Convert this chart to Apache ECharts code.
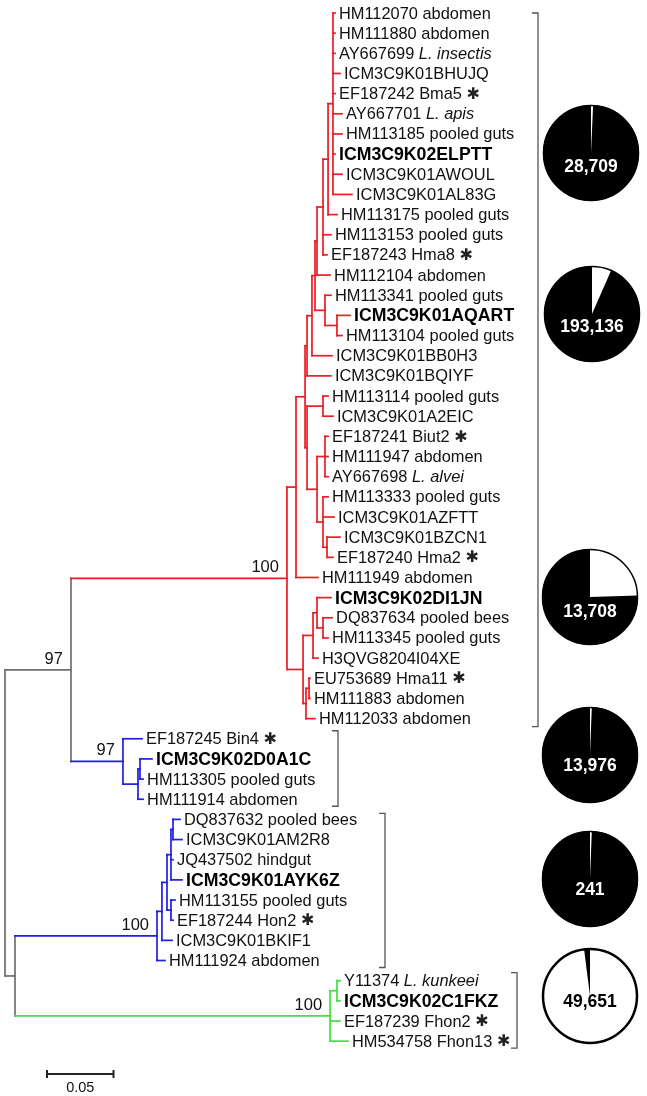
<!DOCTYPE html>
<html><head><meta charset="utf-8">
<script src="https://cdn.jsdelivr.net/npm/echarts@6/dist/echarts.min.js"></script>
<style>html,body{margin:0;padding:0;background:#fff}#c{width:647px;height:1096px}</style>
</head><body><div id="c"></div>
<script>
// ---------- data ----------
const leafNames = [
 'HM112070 abdomen','HM111880 abdomen','AY667699 L. insectis','ICM3C9K01BHUJQ','EF187242 Bma5',
 'AY667701 L. apis','HM113185 pooled guts','ICM3C9K02ELPTT','ICM3C9K01AWOUL','ICM3C9K01AL83G',
 'HM113175 pooled guts','HM113153 pooled guts','EF187243 Hma8','HM112104 abdomen','HM113341 pooled guts',
 'ICM3C9K01AQART','HM113104 pooled guts','ICM3C9K01BB0H3','ICM3C9K01BQIYF','HM113114 pooled guts',
 'ICM3C9K01A2EIC','EF187241 Biut2','HM111947 abdomen','AY667698 L. alvei','HM113333 pooled guts',
 'ICM3C9K01AZFTT','ICM3C9K01BZCN1','EF187240 Hma2','HM111949 abdomen','ICM3C9K02DI1JN',
 'DQ837634 pooled bees','HM113345 pooled guts','H3QVG8204I04XE','EU753689 Hma11','HM111883 abdomen',
 'HM112033 abdomen','EF187245 Bin4','ICM3C9K02D0A1C','HM113305 pooled guts','HM111914 abdomen',
 'DQ837632 pooled bees','ICM3C9K01AM2R8','JQ437502 hindgut','ICM3C9K01AYK6Z','HM113155 pooled guts',
 'EF187244 Hon2','ICM3C9K01BKIF1','HM111924 abdomen','Y11374 L. kunkeei','ICM3C9K02C1FKZ',
 'EF187239 Fhon2','HM534758 Fhon13'
];
// distance of each tip from the root (substitutions per site)
const leafTip = [
 .2481,.2481,.2481,.2519,.2481,.2534,.2534,.2481,.2534,.2609,
 .2496,.2451,.2421,.2444,.2451,.2594,.2534,.2459,.2451,.2429,
 .2466,.2429,.2429,.2429,.2429,.2474,.2519,.2466,.2353,.2451,
 .2459,.2429,.2353,.2293,.2293,.2331,.1030,.1105,.1038,.1038,
 .1316,.1331,.1263,.1331,.1278,.1263,.1256,.1203,.2519,.2519,
 .2519,.2579
];
const boldLeaves = [7,15,29,37,43,49];
const italicLeaves = [2,5,23,48];
const starLeaves = [4,12,21,27,33,36,45,50,51];

const nodeNames = ['N1','N2','N3','N4','Nq2','Nq','N5','N6','N7','G1','G2','G3b','G3','G23','G123','U','A',
 'L1b','L1a','L1','L2a','L2','L','R','B1a','B1b','B1','N97','B2aa','B2a','B2b','B2c','B2d','B2','Ga','G','NB','Root'];
const nodeChildren = [
 [0,1,2,3,4,5,6,7,8,9],['N1',10],['N2',11,12],['N3',13],[15,16],[14,'Nq2'],['N4','Nq'],['N5',17],['N6',18],
 [19,20],[21,22,23],[26,27],[24,25,'G3b'],['G2','G3'],['G1','G23'],['N7','G123'],['U',28],
 [30,31],[29,'L1b'],['L1a',32],[33,34],['L2a',35],['L1','L2'],['A','L'],
 [37,38],['B1a',39],[36,'B1b'],['R','B1'],
 [40,41],['B2aa',42,43],[44,45],['B2a','B2b'],['B2c',46],['B2d',47],
 [48,49],['Ga',50,51],['B2','G'],['N97','NB']
];
const nodeDepth = [
 .2466,.2429,.2391,.2346,.2496,.2406,.2331,.2308,.2271,.2391,.2406,.2421,.2391,.2346,.2271,.2256,.2188,
 .2391,.2346,.2316,.2286,.2263,.2241,.2120,.1015,.1000,.0887,.0496,
 .1263,.1248,.1248,.1218,.1180,.1143,.2496,.2444,.0075,0
];
const nodeClade = ['r','r','r','r','r','r','r','r','r','r','r','r','r','r','r','r','r',
 'r','r','r','r','r','r','r','b','b','b','k','b','b','b','b','b','b','g','g','k','k'];
const supportNodes = ['R','N97','B1','B2','G'];
const supportValues = ['100','97','97','100','100'];
const pieCounts = ['28,709','193,136','13,708','13,976','241','49,651'];
const pieMinorShare = [0.007,0.066,0.245,0.006,0.006,0.02];
const scaleBarLength = 0.05;

// ---------- layout / style ----------
const cladeColor = {r:'#ec1c24', b:'#1e1ee6', g:'#45de45', k:'#6e6e6e'};
const FONT = '"Liberation Sans", Arial, Helvetica, sans-serif';
const pieCenters = [[591,153],[592,314],[590,597],[590,755],[590,879],[590,996]];
const pieLabelDy = [14,13,15,11,11,6];
const brackets = [[0,35,538,0,8],[36,39,338,8,7],[40,47,385,6,7],[48,51,517,8,7]]; // from,to,xpx,padTop,padBottom

const nodeIndex = {};
nodeNames.forEach((n,i)=>nodeIndex[n]=i);
const memo = {};
function pos(ref){
  if (typeof ref === 'number') return {x: leafTip[ref], y: ref};
  if (memo[ref]) return memo[ref];
  const i = nodeIndex[ref], ch = nodeChildren[i];
  const a = pos(ch[0]), b = pos(ch[ch.length-1]);
  return memo[ref] = {x: nodeDepth[i], y: (a.y+b.y)/2};
}
const segs = [];
nodeNames.forEach((n,i)=>{
  const p = pos(n), ch = nodeChildren[i];
  const ys = ch.map(c=>pos(c).y);
  segs.push([p.x, Math.min(...ys), p.x, Math.max(...ys), nodeClade[i]]);
  ch.forEach(c=>{
    const q = pos(c);
    const col = typeof c === 'number' ? nodeClade[i] : nodeClade[nodeIndex[c]];
    segs.push([p.x, q.y, q.x, q.y, col]);
  });
});
const leafData = leafNames.map((n,i)=>[leafTip[i], i]);
const supportData = supportNodes.map((n,i)=>[pos(n).x, pos(n).y, i]);

function leafRich(i){
  const name = leafNames[i];
  if (boldLeaves.includes(i)) return '{b|'+name+'}';
  if (italicLeaves.includes(i)) {
    const k = name.indexOf(' ');
    return '{n|'+name.slice(0,k+1)+'}{i|'+name.slice(k+1)+'}';
  }
  if (starLeaves.includes(i)) return '{n|'+name+' }{s|✱}';
  return '{n|'+name+'}';
}

const chart = echarts.init(document.getElementById('c'), null, {renderer:'canvas'});
const series = [
  {
    type:'custom', clip:false, silent:true, animation:false,
    data: segs.map(s=>[s[0],s[1],s[2],s[3]]),
    renderItem(params, api){
      const p1 = api.coord([api.value(0), api.value(1)]);
      const p2 = api.coord([api.value(2), api.value(3)]);
      return {type:'line', shape:{x1:p1[0],y1:p1[1],x2:p2[0],y2:p2[1]},
        style:{stroke: cladeColor[segs[params.dataIndex][4]], lineWidth:1.7, lineCap:'square'}};
    }
  },
  {
    type:'custom', clip:false, silent:true, animation:false,
    data: leafData,
    renderItem(params, api){
      const p = api.coord([api.value(0), api.value(1)]);
      return {type:'text', x:p[0]+4, y:p[1]+1,
        style:{text: leafRich(params.dataIndex), verticalAlign:'middle', align:'left',
          rich:{
            n:{fontFamily:FONT, fontSize:16.4, fill:'#111'},
            b:{fontFamily:FONT, fontSize:17.7, fontWeight:'bold', fill:'#000'},
            i:{fontFamily:FONT, fontSize:16.4, fontStyle:'italic', fill:'#111'},
            s:{fontFamily:'"DejaVu Sans", sans-serif', fontSize:16, fontWeight:'bold', fill:'#222'}
          }}};
    }
  },
  {
    type:'custom', clip:false, silent:true, animation:false,
    data: supportData,
    renderItem(params, api){
      const p = api.coord([api.value(0), api.value(1)]);
      return {type:'text', x:p[0]-8, y:p[1]-2,
        style:{text: supportValues[params.dataIndex], align:'right', verticalAlign:'bottom',
          font:'16.5px '+FONT, fill:'#111'}};
    }
  },
  {
    type:'custom', clip:false, silent:true, animation:false,
    data: brackets.map(b=>[b[0], b[1]]),
    renderItem(params, api){
      const b = brackets[params.dataIndex];
      const top = api.coord([0, api.value(0)])[1] - b[3];
      const bot = api.coord([0, api.value(1)])[1] + b[4];
      const x = b[2];
      const st = {stroke:'#555', lineWidth:1.3, fill:null};
      return {type:'polyline', shape:{points:[[x-6,top],[x,top],[x,bot],[x-6,bot]]}, style:st};
    }
  },
  {
    type:'custom', clip:false, silent:true, animation:false,
    data: [[0, scaleBarLength]],
    renderItem(params, api){
      const x0 = 47, y0 = 1074;
      const len = api.coord([api.value(1), 0])[0] - api.coord([api.value(0), 0])[0];
      const st = {stroke:'#222', lineWidth:2};
      return {type:'group', children:[
        {type:'line', shape:{x1:x0,y1:y0,x2:x0+len,y2:y0}, style:st},
        {type:'line', shape:{x1:x0,y1:y0-4,x2:x0,y2:y0+4}, style:st},
        {type:'line', shape:{x1:x0+len,y1:y0-4,x2:x0+len,y2:y0+4}, style:st},
        {type:'text', x:x0+len/2, y:y0+6, style:{text:String(scaleBarLength), align:'center', verticalAlign:'top', font:'14.5px '+FONT, fill:'#111'}}
      ]};
    }
  }
];
pieCounts.forEach((c,i)=>{
  const last = i === pieCounts.length-1;
  const share = pieMinorShare[i];
  series.push({
    type:'pie', silent:true, animation:false, center:pieCenters[i], radius:[0,48],
    startAngle:90, clockwise:true, label:{show:false}, labelLine:{show:false},
    emphasis:{disabled:true},
    data: last
      ? [{value:1-share, itemStyle:{color:'#fff', borderWidth:0}},
         {value:share, itemStyle:{color:'#000', borderWidth:0}}]
      : [{value:share, itemStyle:{color:'#fff', borderWidth:0}},
         {value:1-share, itemStyle:{color:'#000', borderWidth:0}}]
  });
});
const graphics = [];
pieCounts.forEach((c,i)=>{
  const last = i === pieCounts.length-1;
  graphics.push({type:'circle', silent:true, z:90, shape:{cx:pieCenters[i][0], cy:pieCenters[i][1], r: last ? 47 : 47.5},
    style:{fill:null, stroke:'#000', lineWidth: last ? 2.5 : 1.5}});
  graphics.push({
    type:'text', x:pieCenters[i][0], y:pieCenters[i][1]+pieLabelDy[i], silent:true, z:100,
    style:{text:c, align:'center', verticalAlign:'middle', font:'bold 17.5px '+FONT,
      fill: last ? '#000' : '#fff'}
  });
});

chart.setOption({
  animation:false,
  backgroundColor:'#fff',
  grid:{left:5, top:13, width:0.48*1330, height:51*20.16},
  xAxis:{type:'value', min:0, max:0.48, show:false},
  yAxis:{type:'value', min:0, max:51, inverse:true, show:false},
  graphic: graphics,
  series
});
</script></body></html>
